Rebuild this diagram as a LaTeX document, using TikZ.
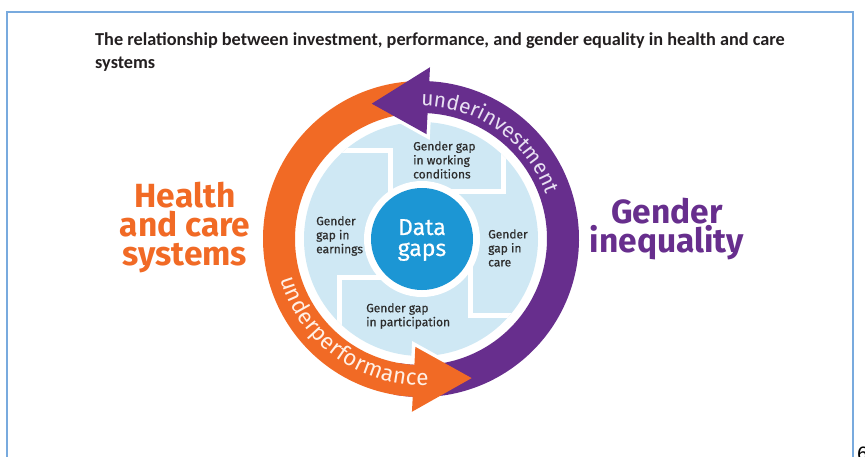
\documentclass[tikz,border=0pt]{standalone}
\usepackage{fontspec}
\setmainfont{Fira Sans}
\newfontfamily\titlefont{Carlito}
\newfontfamily\medfont[FakeBold=0.5]{Fira Sans}
\usetikzlibrary{decorations.text}
\definecolor{ringorange}{RGB}{241,106,37}
\definecolor{ringpurple}{RGB}{103,46,141}
\definecolor{coreblue}{RGB}{28,150,212}
\definecolor{paleblue}{RGB}{207,232,244}
\definecolor{labelgrey}{RGB}{45,45,45}
\definecolor{frameblue}{RGB}{120,170,222}
\definecolor{titleink}{RGB}{35,31,32}
\definecolor{lavtext}{RGB}{232,224,242}
\definecolor{peachtext}{RGB}{255,240,230}
\tikzset{
  gaplabel/.style={font=\medfont\fontsize{12}{14}\selectfont, text=labelgrey, align=left, anchor=west, inner sep=0pt},
  bigorange/.style={font=\bfseries\fontsize{33.5}{29}\selectfont, text=ringorange, align=center, inner sep=0pt},
  bigpurple/.style={font=\bfseries\fontsize{33.5}{29}\selectfont, text=ringpurple, align=center, inner sep=0pt},
  divider/.style={white, line width=5pt},
}
\begin{document}
\begin{tikzpicture}[x=1pt,y=1pt]
\useasboundingbox (0,0) rectangle (865,456);
\clip (0,0) rectangle (865,456);
\fill[white] (0,0) rectangle (865,456);
% frame
\draw[frameblue, line width=1.4pt] (7,-20) -- (7,444) -- (853,444) -- (853,-20);
% title
\node[anchor=base west, inner sep=0pt, font=\titlefont\bfseries\fontsize{18.25}{20}\selectfont, text=titleink] (title1) at (95,410)
  {The relationship between investment, performance, and gender equality in health and care};
\node[anchor=base west, inner sep=0pt, font=\titlefont\bfseries\fontsize{18.25}{20}\selectfont, text=titleink] (title2) at (95,387) {systems};
% side labels
\node[bigorange] (health) at (185,228) {Health\\and care\\systems};
\node[bigpurple] (gender) at (667,227) {Gender\\inequality};
% page number fragment
\node[anchor=base west, inner sep=0pt, font=\fontsize{20}{20}\selectfont] (pgnum) at (857,-4) {6};

\begin{scope}[shift={(421,217)}]
  % pale disk
  \fill[paleblue] (0,0) circle[radius=117];
  \begin{scope}
    \clip (0,0) circle[radius=117];
    \draw[divider] (-130,88) -- (-31,88) -- (-31,-10);
    \draw[divider] (82,130) -- (82,47) -- (-10,47);
    \draw[divider] (130,-76) -- (49,-76) -- (49,10);
    \draw[divider] (-82,-130) -- (-82,-38) -- (10,-38);
  \end{scope}
  \fill[white] (1,0) circle[radius=58];
  \node[circle, fill=coreblue, minimum size=102pt, inner sep=0pt] (core) at (1,0) {};
  \node[font=\medfont\fontsize{23}{21}\selectfont, text=white, align=center, inner sep=0pt] (datagaps) at (1,-1) {Data\\gaps};
  % white halo of arrow heads
  \draw[white, line width=7pt, line join=miter] (87:105) -- (87:172) -- (110:144) -- cycle;
  \draw[white, line width=7pt, line join=miter] (267:108) -- (267:173) -- (290:148) -- cycle;
  % bodies
  \fill[ringpurple] (-100:158) arc[start angle=-100, end angle=87.5, radius=158]
     -- (87.5:126) arc[start angle=87.5, end angle=-100, radius=126] -- cycle;
  \fill[ringorange] (94:158) arc[start angle=94, end angle=267.5, radius=158]
     -- (267.5:126) arc[start angle=267.5, end angle=94, radius=126] -- cycle;
  % heads
  \fill[ringpurple] (87:105) -- (87:172) -- (110:144) -- cycle;
  \fill[ringorange] (267:108) -- (267:173) -- (290:148) -- cycle;
  % arc texts
  \path[decorate, decoration={text along path, text align=fit to path,
      text={|\fontsize{21}{21}\selectfont\color{lavtext}|underinvestment}}]
      (90:133) arc[start angle=90, end angle=21, radius=133];
  \path[decorate, decoration={text along path, text align=fit to path,
      text={|\fontsize{22.5}{22}\selectfont\color{peachtext}|underperformance}}]
      (196:146) arc[start angle=196, end angle=273, radius=146];
\end{scope}

% gap labels
\node[gaplabel] (working) at (413,296) {Gender gap\\in working\\conditions};
\node[gaplabel] (earnings) at (316,220) {Gender\\gap in\\earnings};
\node[gaplabel] (care) at (488,208) {Gender\\gap in\\care};
\node[gaplabel] (particip) at (366,140) {Gender gap\\in participation};
\end{tikzpicture}
\end{document}
